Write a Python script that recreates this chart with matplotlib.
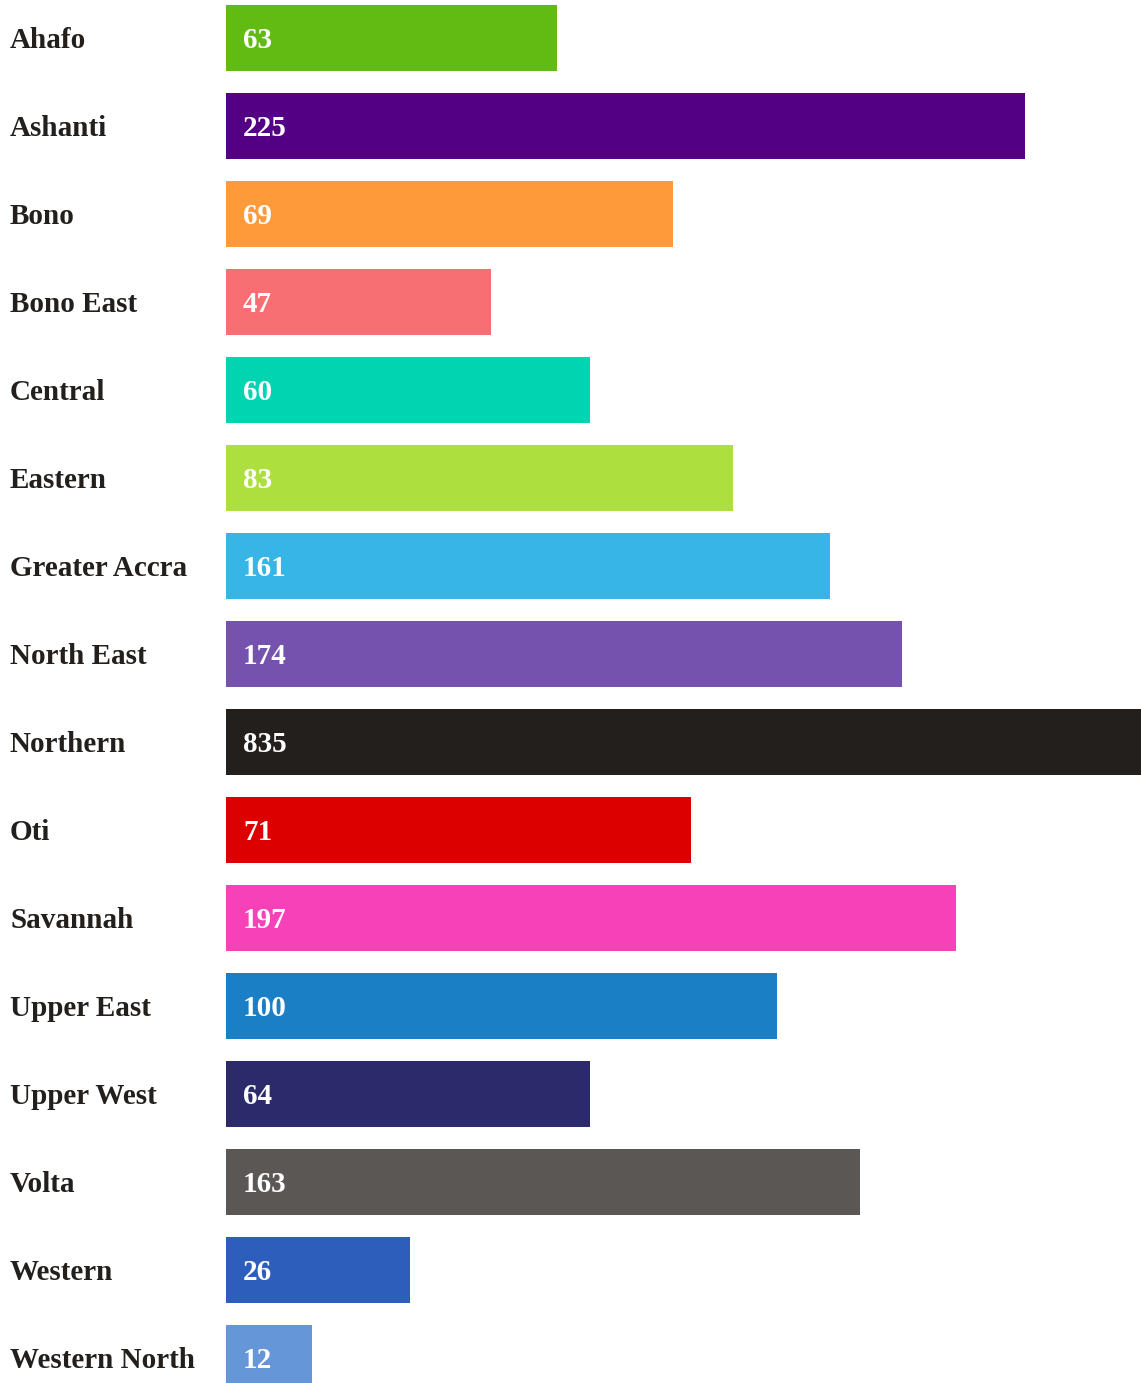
import matplotlib
matplotlib.use("Agg")
import matplotlib.pyplot as plt

# regions, displayed counts, and bar lengths
regions = ["Ahafo", "Ashanti", "Bono", "Bono East", "Central", "Eastern",
           "Greater Accra", "North East", "Northern", "Oti", "Savannah",
           "Upper East", "Upper West", "Volta", "Western", "Western North"]
counts = [63, 225, 69, 47, 60, 83, 161, 174, 835, 71, 197, 100, 64, 163, 26, 12]
# bar lengths in the chart are not proportional to the counts; estimated widths
bar_len = [331, 799, 447, 265, 364, 507, 604, 676, 1000, 465, 730, 551, 364, 634, 184, 86]
colors = ["#62BB12", "#540084", "#FF9A3A", "#F76F72", "#00D4B0", "#ADDF3E",
          "#37B5E6", "#7452AE", "#231F1C", "#DD0000", "#F641B8", "#1A7FC4",
          "#2C2A6B", "#5A5754", "#2E5EBC", "#6496D8"]

W, H = 1141, 1383
fig = plt.figure(figsize=(W / 100, H / 100), dpi=100)
ax = fig.add_axes([226 / W, 0, 1 - 226 / W, 1])

pitch = 88.0
first = 38.0
ys = list(range(len(regions)))
ax.barh(ys, bar_len, height=0.74, color=colors, left=0)
ax.set_xlim(0, 915)
ax.set_ylim((H - first) / pitch, -first / pitch)
ax.axis("off")

font = dict(family="Liberation Serif", weight="bold", fontsize=21)
base = 10 / pitch  # baseline sits ~10px below the bar centre
for y, name, c in zip(ys, regions, counts):
    ax.text(-216, y + base, name, ha="left", va="baseline", color="#231F1C",
            clip_on=False, **font)
    ax.text(17, y + base, str(c), ha="left", va="baseline", color="white", **font)

fig.savefig("out.png", dpi=100)
